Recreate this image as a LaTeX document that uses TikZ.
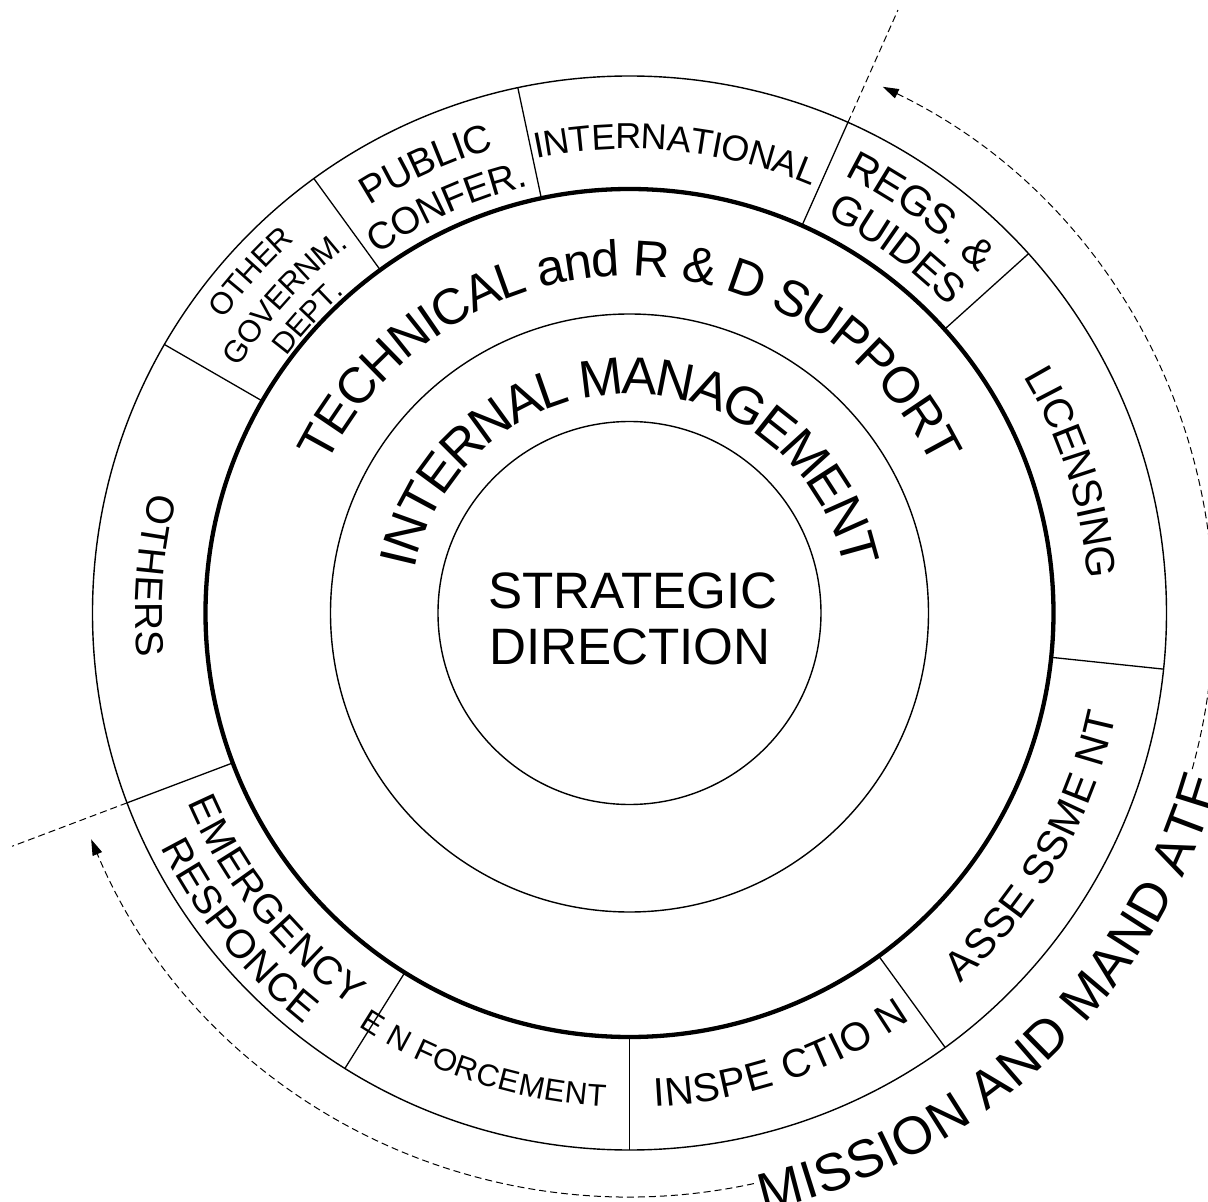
\documentclass[tikz,border=0pt]{standalone}
\usepackage{fontspec}
\setmainfont{Liberation Sans}
\usetikzlibrary{decorations.text,arrows.meta}

% Text set along a circular arc centred on the origin.
% #1 radius (middle of the capitals), #2 centre angle, #3 half span of the carrier arc,
% #4 font size, #5 text
\newcommand\cwlabel[5]{% read clockwise, letter tops outwards
  \pgfmathsetmacro\lblraise{-0.358*#4}%
  \path[decorate,decoration={text along path,text align=center,raise=\lblraise pt,
      text={|\fontsize{#4}{#4}\selectfont|#5}}]
    ({#2+#3}:#1) arc[start angle={#2+#3},end angle={#2-#3},radius=#1];}
\newcommand\ccwlabel[5]{% read counter-clockwise, letter tops inwards
  \pgfmathsetmacro\lblraise{-0.358*#4}%
  \path[decorate,decoration={text along path,text align=center,raise=\lblraise pt,
      text={|\fontsize{#4}{#4}\selectfont|#5}}]
    ({#2-#3}:#1) arc[start angle={#2-#3},end angle={#2+#3},radius=#1];}

\tikzset{
  ring/.style={line width=1.4pt},
  mainring/.style={line width=4.3pt},
  divider/.style={line width=1.3pt},
  guide/.style={line width=1pt,dash pattern=on 7pt off 4pt},
  flow/.style={guide,-{Triangle[length=16pt,width=10pt]}},
  title/.style={inner sep=0pt,anchor=base,font=\fontsize{51.2}{56}\selectfont}
}

\begin{document}
\begin{tikzpicture}[x=1pt,y=1pt]
\useasboundingbox (-629.5,-589) rectangle (578.5,613);
\fill[white] (-629.5,-589) rectangle (578.5,613);

% concentric rings
\draw[ring] (0,0) circle[radius=191.5];
\draw[ring] (0,0) circle[radius=299];
\draw[mainring] (0,0) circle[radius=424];
\draw[ring] (0,0) circle[radius=537];

% sector boundaries of the outer ring
\foreach \a in {42,66,102,126,150,200.7,238,270,306,354}
  \draw[divider] (\a:424) -- (\a:537);

% boundaries of the mission sectors, extended outwards
\coordinate (mA) at (66:537);   \coordinate (mAo) at (66:660);
\coordinate (mB) at (200.7:537); \coordinate (mBo) at (200.7:660);
\draw[guide] (mA) -- (mAo);
\draw[guide] (mB) -- (mBo);

% circulating arrows around the mission sectors
\draw[flow] (-77.7:584) arc[start angle=-77.7,end angle=-157.2,radius=584];
\draw[flow] (-15.5:584) arc[start angle=-15.5,end angle=64.3,radius=584];

% centre
\node[title] (strat) at (3.5,4.7) {STRATEGIC};
\node[title] (dir) at (0.5,-52) {DIRECTION};

% inner rings
\cwlabel{238}{90}{88}{52.5}{INTERNAL MANAGEMENT}
\cwlabel{355}{89.8}{85}{50.5}{TECHNICAL and R {\&} D SUPPORT}

% outer ring, upper part
\cwlabel{477}{84.25}{35}{36}{INTERNATIONAL}
\cwlabel{502}{54}{30}{42}{REGS. {\&}}
\cwlabel{457}{53.7}{30}{41}{GUIDES}
\cwlabel{474}{17.6}{35}{41}{LICENSING}
\cwlabel{497.5}{114.35}{30}{39}{PUBLIC}
\cwlabel{452}{114.2}{30}{38}{CONFER.}
\cwlabel{512}{138}{30}{31}{OTHER}
\cwlabel{473}{137.6}{30}{31}{GOVERNM.}
\cwlabel{439}{137.4}{30}{30}{DEPT.}

% outer ring, lower part
\ccwlabel{480}{175.5}{35}{39}{OTHERS}
\ccwlabel{467}{219}{35}{40}{EMERGENCY}
\ccwlabel{510}{219.1}{35}{40}{RESPONCE}
\ccwlabel{483}{252}{35}{31}{E N FORCEMENT}
\ccwlabel{480}{288.8}{35}{40}{INSPE CTIO N}
\ccwlabel{482}{330}{35}{41.5}{ASSE SSME NT}

% outside the rings
\ccwlabel{594}{313.4}{45}{53}{MISSION AND MAND ATE}
\end{tikzpicture}
\end{document}
